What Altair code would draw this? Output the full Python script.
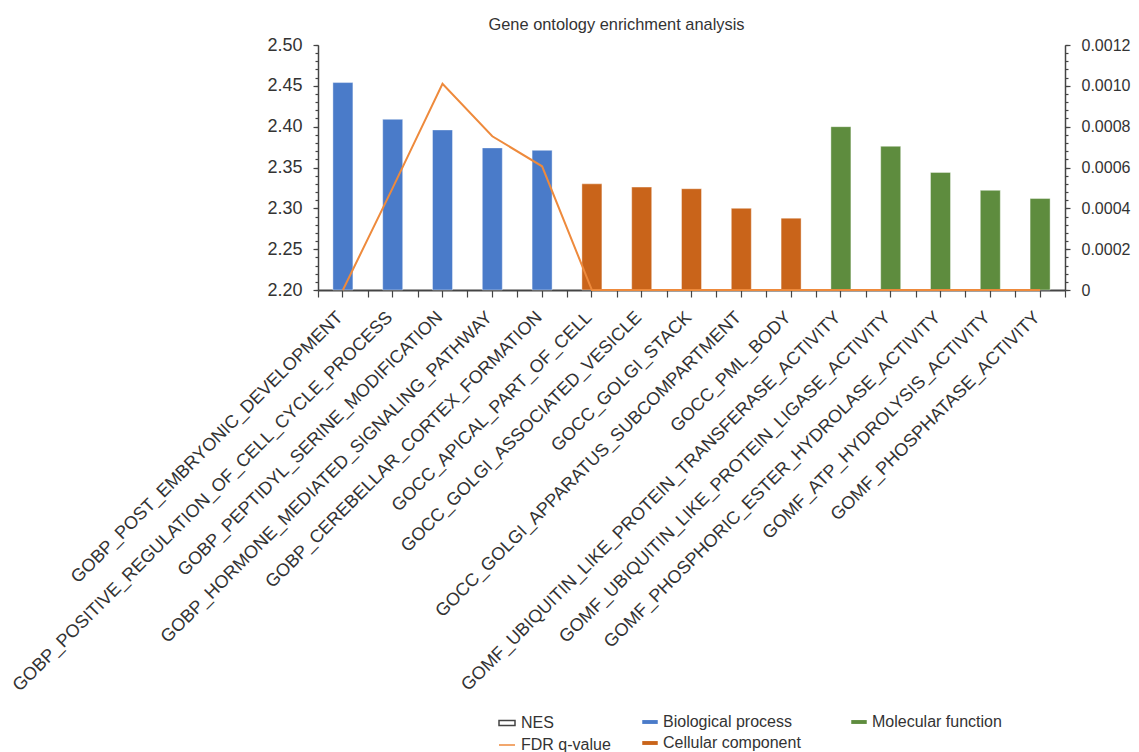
import altair as alt
import pandas as pd

terms = [
    "GOBP_POST_EMBRYONIC_DEVELOPMENT",
    "GOBP_POSITIVE_REGULATION_OF_CELL_CYCLE_PROCESS",
    "GOBP_PEPTIDYL_SERINE_MODIFICATION",
    "GOBP_HORMONE_MEDIATED_SIGNALING_PATHWAY",
    "GOBP_CEREBELLAR_CORTEX_FORMATION",
    "GOCC_APICAL_PART_OF_CELL",
    "GOCC_GOLGI_ASSOCIATED_VESICLE",
    "GOCC_GOLGI_STACK",
    "GOCC_GOLGI_APPARATUS_SUBCOMPARTMENT",
    "GOCC_PML_BODY",
    "GOMF_UBIQUITIN_LIKE_PROTEIN_TRANSFERASE_ACTIVITY",
    "GOMF_UBIQUITIN_LIKE_PROTEIN_LIGASE_ACTIVITY",
    "GOMF_PHOSPHORIC_ESTER_HYDROLASE_ACTIVITY",
    "GOMF_ATP_HYDROLYSIS_ACTIVITY",
    "GOMF_PHOSPHATASE_ACTIVITY",
]
nes = [2.454, 2.409, 2.396, 2.374, 2.371,
       2.330, 2.326, 2.324, 2.300, 2.288,
       2.400, 2.376, 2.344, 2.322, 2.312]
fdr = [0.0, 0.0005, 0.00101, 0.000753, 0.000606,
       0.0, 0.0, 0.0, 0.0, 0.0,
       0.0, 0.0, 0.0, 0.0, 0.0]
groups = [
    "Biological process", "Biological process", "Biological process",
    "Biological process", "Biological process",
    "Cellular component", "Cellular component", "Cellular component",
    "Cellular component", "Cellular component",
    "Molecular function", "Molecular function", "Molecular function",
    "Molecular function", "Molecular function",
]
group_order = ["Biological process", "Cellular component", "Molecular function"]
group_colors = ["#4A7BC9", "#C9641A", "#5E8C3E"]
series_names = ["NES", "FDR q-value"]

left_major = [2.20, 2.25, 2.30, 2.35, 2.40, 2.45, 2.50]
left_minor = [round(2.20 + 0.01 * i, 2) for i in range(31)]
right_major = [0.0, 0.0002, 0.0004, 0.0006, 0.0008, 0.0010, 0.0012]
right_minor = [round(0.00004 * i, 5) for i in range(31)]

df = pd.DataFrame({"term": terms, "nes": nes, "fdr": fdr, "group": groups})
legend_df = pd.DataFrame({"series": series_names, "term": terms[:2], "nes": [2.3, 2.3]})

FONT = "Liberation Sans"
LINE_COLOR = "#EE8A3C"

left_scale = alt.Scale(domain=[2.2, 2.5], zero=False, nice=False)
right_scale = alt.Scale(domain=[0, 0.0012], nice=False)
x_scale = alt.Scale(paddingInner=0, paddingOuter=0)

base = alt.Chart(df)

bars = base.mark_bar(width=20, stroke="white", strokeWidth=1, strokeOpacity=0.4).encode(
    x=alt.X("term:N", sort=terms, scale=x_scale, title=None,
            axis=alt.Axis(orient="bottom", labelAngle=-45, labelFontSize=18, tickSize=7,
                          labelPadding=11, labelOffset=-9, labelOverlap=False,
                          labelLimit=0, domainWidth=1.8)),
    y=alt.Y("nes:Q", scale=left_scale, title=None,
            axis=alt.Axis(orient="left", values=left_major, format=".2f",
                          labelFontSize=18, tickSize=5, labelPadding=11,
                          domainWidth=1.5)),
    y2=alt.datum(2.2),
    color=alt.Color("group:N", scale=alt.Scale(domain=group_order, range=group_colors),
                    legend=alt.Legend(title=None, orient="none", legendX=324, legendY=669,
                                      columns=2, columnPadding=50, rowPadding=5,
                                      symbolType="M-1,-0.25H1V0.25H-1Z", symbolSize=240,
                                      symbolStrokeWidth=0, labelFontSize=16, labelOffset=5,
                                      padding=0)),
)

line = base.mark_line(color=LINE_COLOR, strokeWidth=2).encode(
    x=alt.X("term:N", sort=terms, axis=None),
    y=alt.Y("fdr:Q", scale=right_scale, title=None,
            axis=alt.Axis(orient="right", values=right_major, labelFontSize=16,
                          labelExpr="datum.value == 0 ? '0' : format(datum.value, '.4f')",
                          tickSize=5, labelPadding=11, domainWidth=1.5)),
)

left_minor_layer = base.mark_point(opacity=0).encode(
    x=alt.X("term:N", sort=terms, title=None,
            axis=alt.Axis(orient="bottom", tickBand="extent", labels=False, domain=False,
                          tickSize=7)),
    y=alt.Y("nes:Q", scale=left_scale, title=None,
            axis=alt.Axis(orient="left", values=left_minor, labels=False, domain=False,
                          tickSize=3)),
)

right_minor_layer = base.mark_point(opacity=0).encode(
    x=alt.X("term:N", sort=terms, axis=None),
    y=alt.Y("fdr:Q", scale=right_scale, title=None,
            axis=alt.Axis(orient="right", values=right_minor, labels=False, domain=False,
                          tickSize=3)),
)

legend_layer = alt.Chart(legend_df).mark_point(opacity=0).encode(
    x=alt.X("term:N", sort=terms, axis=None),
    y=alt.Y("nes:Q", scale=left_scale, axis=None),
    shape=alt.Shape("series:N", scale=alt.Scale(domain=series_names,
                                               range=["M-1,-0.3H1V0.3H-1Z", "M-1,0H1"]),
                    legend=alt.Legend(title=None, orient="none", legendX=180, legendY=669,
                                      symbolSize=256, symbolStrokeWidth=1.5, symbolOpacity=1,
                                      rowPadding=5, labelFontSize=16, labelOffset=5,
                                      padding=0)),
    fill=alt.Fill("series:N", scale=alt.Scale(domain=series_names,
                                             range=["#ffffff", "transparent"]), legend=None),
    stroke=alt.Stroke("series:N", scale=alt.Scale(domain=series_names,
                                                 range=["#444444", LINE_COLOR]), legend=None),
)

chart = alt.layer(bars, line, left_minor_layer, right_minor_layer, legend_layer).resolve_scale(
    y="independent"
).resolve_axis(
    x="independent"
).properties(
    width=747,
    height=245,
    autosize=alt.AutoSizeParams(type="none"),
    padding={"left": 318, "top": 45, "right": 74, "bottom": 462},
    title=alt.TitleParams("Gene ontology enrichment analysis", anchor="middle", dx=-75,
                          dy=16, offset=6, baseline="alphabetic", fontSize=16.4,
                          fontWeight="normal", font=FONT, color="#333333"),
).configure_view(stroke=None).configure_axis(
    labelFont=FONT, labelColor="#333333", domainColor="#444444", tickColor="#444444",
    grid=False, tickWidth=1.2,
).configure_legend(
    labelFont=FONT, labelColor="#333333",
)

chart.save("out.html", embed_options={"renderer": "svg", "actions": False})
